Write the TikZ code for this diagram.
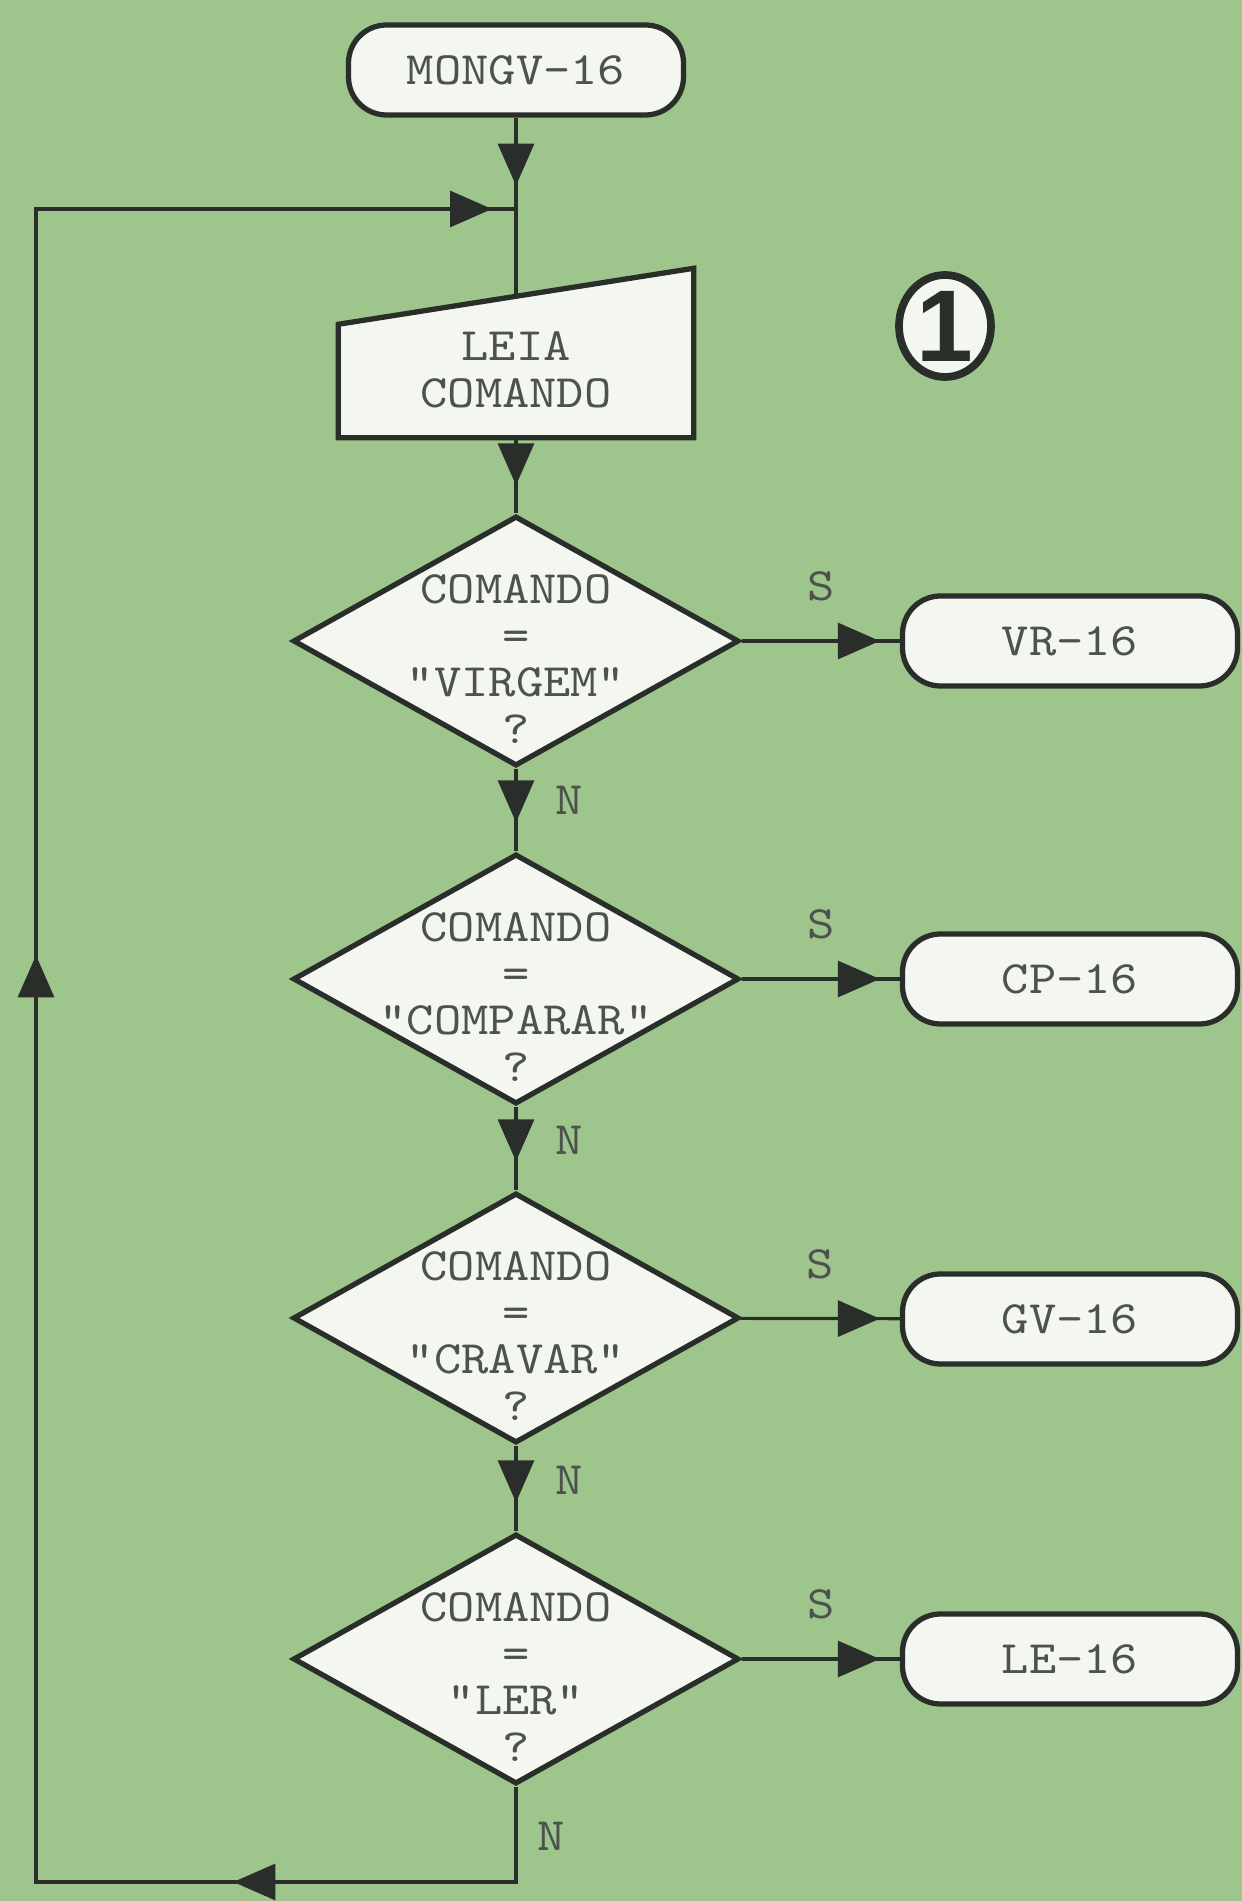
\documentclass[tikz,border=0pt]{standalone}
\usepackage{fontspec}
\usepackage{tikz}
\usetikzlibrary{positioning, calc, arrows.meta, shapes.geometric, decorations.markings}

\newfontfamily\typefont{lmmono10-regular.otf}[FakeStretch=1.12]
\newfontfamily\badgefont{Liberation Sans}

\definecolor{pagegreen}{RGB}{158,197,139}
\definecolor{boxwhite}{RGB}{244,247,240}
\definecolor{inkdark}{RGB}{42,46,42}
\definecolor{inkgray}{RGB}{78,82,78}

\newcommand{\typewriter}{\typefont\fontsize{13.2}{13.2}\selectfont}

\tikzset{
    flowtip/.tip={Triangle[length=0.42cm, width=0.36cm]},
    terminal/.style={draw=inkdark, fill=boxwhite, line width=1.5pt, rounded corners=0.38cm,
        minimum width=3.35cm, minimum height=0.9cm, inner sep=0pt, text=inkgray, font=\typewriter},
    decision/.style={diamond, draw=inkdark, fill=boxwhite, line width=1.5pt,
        minimum width=4.46cm, minimum height=2.5cm, inner sep=0pt},
    question/.style={text=inkgray, font=\typewriter, align=center, yshift=-0.18cm},
    answer/.style={text=inkgray, font=\typewriter, inner sep=0pt},
    flow/.style={draw=inkdark, line width=0.9pt},
    tipat/.style={postaction={decorate}, decoration={markings, mark=at position #1 with {\arrow{flowtip}}}},
}

\begin{document}
\begin{tikzpicture}
    % Page background
    \fill[pagegreen] (0,0) rectangle (12.42,19.01);
    \useasboundingbox (0,0) rectangle (12.42,19.01);

    % Start
    \node[terminal] (mongv) at (5.16,18.31) {MONGV-16};

    % Read command (manual input)
    \node[minimum width=3.54cm, minimum height=1.68cm, inner sep=0pt] (leia) at (5.16,15.48) {};
    \filldraw[draw=inkdark, fill=boxwhite, line width=1.5pt]
        (leia.south west) -- (leia.south east) -- (leia.north east)
        -- ($(leia.north west)+(0,-0.56)$) -- cycle;
    \node[answer, align=center] (leiatext) at ($(leia.center)+(0,-0.17)$) {LEIA\\COMANDO};
    \coordinate (leiain) at ($(leia.north)+(0,-0.28)$);

    % Number badge
    \node[ellipse, draw=inkdark, fill=boxwhite, line width=2.2pt, minimum width=0.92cm,
        minimum height=1.02cm, inner sep=0pt, text=inkdark,
        font=\badgefont\bfseries\fontsize{29}{29}\selectfont] (badge) at (9.45,15.75) {1};

    % Decisions
    \node[decision, label={[question]center:{COMANDO\\=\\"VIRGEM"\\?}}] (virgem) at (5.16,12.60) {};
    \node[decision, label={[question]center:{COMANDO\\=\\"COMPARAR"\\?}}] (comparar) at (5.16,9.22) {};
    \node[decision, label={[question]center:{COMANDO\\=\\"CRAVAR"\\?}}] (cravar) at (5.16,5.83) {};
    \node[decision, label={[question]center:{COMANDO\\=\\"LER"\\?}}] (ler) at (5.16,2.42) {};

    % Routines
    \node[terminal] (vr) at (10.70,12.60) {VR-16};
    \node[terminal] (cp) at (10.70,9.22) {CP-16};
    \node[terminal] (gv) at (10.70,5.82) {GV-16};
    \node[terminal] (le) at (10.70,2.42) {LE-16};

    % Main line
    \draw[flow, tipat=0.68cm] (mongv) -- (leiain);
    \draw[flow, tipat=-0.28cm] (leia.south) -- (virgem.north);
    \draw[flow, tipat=-0.29cm] (virgem) -- node[answer, pos=0.38, right=0.38cm] {N} (comparar);
    \draw[flow, tipat=-0.29cm] (comparar) -- node[answer, pos=0.4, right=0.38cm] {N} (cravar);
    \draw[flow, tipat=-0.29cm] (cravar) -- node[answer, pos=0.4, right=0.38cm] {N} (ler);

    % Yes branches
    \draw[flow, tipat=-0.2cm] (virgem) -- node[answer, above=0.38cm] {S} (vr);
    \draw[flow, tipat=-0.2cm] (comparar) -- node[answer, above=0.38cm] {S} (cp);
    \draw[flow, tipat=-0.2cm] (cravar) -- node[answer, above=0.38cm] {S} (gv);
    \draw[flow, tipat=-0.2cm] (ler) -- node[answer, above=0.38cm] {S} (le);

    % Loop back
    \coordinate (loopbr) at (5.16,0.19);
    \coordinate (loopbl) at (0.36,0.19);
    \coordinate (looptl) at (0.36,16.92);
    \coordinate (junc) at (5.16,16.92);
    \draw[flow, postaction={decorate}, decoration={markings,
            mark=at position 3.78cm with {\arrow{flowtip}},
            mark=at position 15.02cm with {\arrow{flowtip}},
            mark=at position -0.24cm with {\arrow{flowtip}}}]
        (ler) -- node[answer, pos=0.52, right=0.2cm] {N} (loopbr) -- (loopbl) -- (looptl) -- (junc);
\end{tikzpicture}
\end{document}
